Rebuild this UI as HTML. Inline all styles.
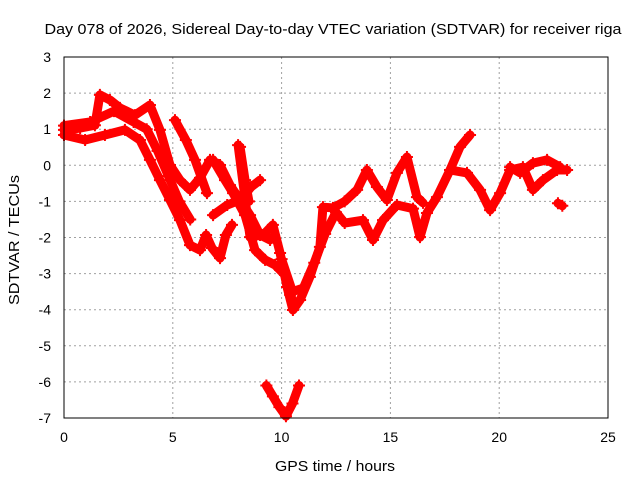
<!DOCTYPE html>
<html><head><meta charset="utf-8"><style>
body{margin:0;background:#fff}
svg{display:block;font-family:"Liberation Sans",sans-serif}
</style></head><body>
<svg id="chart" width="640" height="480" viewBox="0 0 640 480">
<text x="333" y="34" font-size="15" text-anchor="middle" textLength="577" lengthAdjust="spacingAndGlyphs" fill="#000">Day 078 of 2026, Sidereal Day-to-day VTEC variation (SDTVAR) for receiver riga</text>
<text x="335" y="471" font-size="15" text-anchor="middle" textLength="120" lengthAdjust="spacingAndGlyphs">GPS time / hours</text>
<text transform="translate(19,240) rotate(-90)" font-size="15" text-anchor="middle" textLength="130" lengthAdjust="spacingAndGlyphs">SDTVAR / TECUs</text>
<g id="grid"></g>
<g id="ticks"></g>
<g id="series"></g>
<rect x="64" y="57" width="544" height="361" fill="none" stroke="#000" stroke-width="1"/>
</svg>
<script>
const xTicks=[0,5,10,15,20,25];
const yTicks=[3,2,1,0,-1,-2,-3,-4,-5,-6,-7];
const track1=[[0,.98],[.74,1.03],[1.42,1.11],[1.65,1.95],[2.11,1.81],[2.57,1.59],[3.26,1.39],[3.95,1.67],[4.41,.98],[4.87,.01],[5.33,-.41],[5.79,-.68],[6.25,-.35],[6.71,.15],[7.17,.01],[7.63,-.55],[8.09,-.96],[8.55,-1.38],[9.01,-1.93],[9.47,-2.07]];
const track2=[[0,.84],[.97,.7],[1.88,.84],[2.8,.98],[3.49,.7],[3.95,.15],[4.41,-.41],[4.87,-.96],[5.33,-1.52],[5.79,-2.21],[6.25,-2.35],[6.53,-1.93],[6.8,-2.29],[7.17,-2.57],[7.44,-1.93],[7.72,-1.65]];
const track3=[[0,1.1],[1.2,1.2],[2.3,1.5],[3.2,1.2],[3.8,1.0],[4.3,.4],[4.8,-.3],[5.3,-1.0],[5.8,-1.5]];
const track4=[[5.1,1.25],[5.6,.7],[6.02,.15],[6.57,-.77]];
const track5=[[6.85,.15],[7.4,-.41],[7.77,-.77],[8.32,-1.38],[8.78,-2.35],[9.24,-2.62],[9.7,-2.76],[10.16,-3.04],[10.39,-3.59],[10.62,-3.87]];
const track6=[[6.85,-1.38],[7.5,-1.1],[8.09,-.96],[8.6,-.6],[9.01,-.41]];
const track6b=[[8.09,.51],[8.32,-.41],[8.5,-1.0]];
const track7=[[8.0,.56],[8.55,-1.99],[9.15,-1.93],[9.6,-1.65],[9.93,-2.43],[10.25,-3.37],[10.52,-4.01],[10.85,-3.73],[11.3,-3.09],[11.76,-2.26],[11.9,-1.16],[12.36,-1.18],[12.9,-1.0],[13.47,-.68],[13.92,-.13],[14.38,-.6],[14.84,-.96],[15.3,-.21],[15.76,.23],[16.22,-.88],[16.5,-1.04]];
const track8=[[10.0,-2.6],[10.5,-3.5],[11.0,-3.4],[11.5,-2.7],[12.0,-1.9],[12.5,-1.3],[12.9,-1.6],[13.74,-1.52],[14.2,-2.07],[14.66,-1.52],[15.3,-1.1],[16.04,-1.2],[16.36,-1.99],[16.68,-1.32],[17.14,-.88],[17.74,-.13],[18.2,.51],[18.66,.84]];
const track9=[[17.74,-.13],[18.52,-.21],[19.12,-.68],[19.58,-1.24],[20.04,-.77],[20.5,-.13],[21.09,-.05],[21.55,-.68],[22.01,-.41],[22.66,-.13],[23.12,-.13]];
const track10=[[20.5,-.05],[20.96,-.21],[21.55,.06],[22.2,.15],[22.8,-.05]];
const track11=[[22.7,-1.05],[22.9,-1.12]];
const track12=[[9.3,-6.1],[9.6,-6.4],[9.9,-6.7],[10.2,-6.95],[10.5,-6.6],[10.8,-6.1]];
const tracks=[track1,track2,track3,track4,track5,track6,track6b,track7,track8,track9,track10,track11,track12];

const NS='http://www.w3.org/2000/svg';
const X0=64,X1=608,Y0=57,Y1=418;
const xs=t=>X0+(t-0)/25*(X1-X0);
const ys=v=>Y0+(3-v)/10*(Y1-Y0);
function mk(tag,attrs,parent){const e=document.createElementNS(NS,tag);for(const k in attrs)e.setAttribute(k,attrs[k]);parent.appendChild(e);return e;}
const grid=document.getElementById('grid'),ticks=document.getElementById('ticks'),ser=document.getElementById('series');
xTicks.forEach(t=>{
  if(t>0&&t<25){const l=mk('line',{x1:xs(t),x2:xs(t),y1:Y0,y2:Y1,stroke:'#a0a0a0','stroke-dasharray':'2,3'},grid);
  
  }
  const tk=mk('text',{x:xs(t),y:442,'font-size':14,'text-anchor':'middle'},ticks);tk.textContent=t;
  
  
});
yTicks.forEach(v=>{
  if(v<3&&v>-7){const l=mk('line',{x1:X0,x2:X1,y1:ys(v),y2:ys(v),stroke:'#a0a0a0','stroke-dasharray':'2,3'},grid);
  
  }
  const tk=mk('text',{x:51,y:ys(v)+5,'font-size':14,'text-anchor':'end'},ticks);tk.textContent=v;
  
  
});
tracks.forEach(tr=>{
  const pl=mk('polyline',{points:tr.map(p=>xs(p[0])+','+ys(p[1])).join(' '),fill:'none',stroke:'#ff0000','stroke-width':9,'stroke-linejoin':'round','stroke-linecap':'round'},ser);
  
  
  tr.forEach(p=>{
    const x=xs(p[0]),y=ys(p[1]);
    const m=mk('path',{d:`M${x-6},${y}H${x+6}M${x},${y-6}V${y+6}`,stroke:'#ff0000','stroke-width':2},ser);
    
    
  });
});
</script>
</body></html>
